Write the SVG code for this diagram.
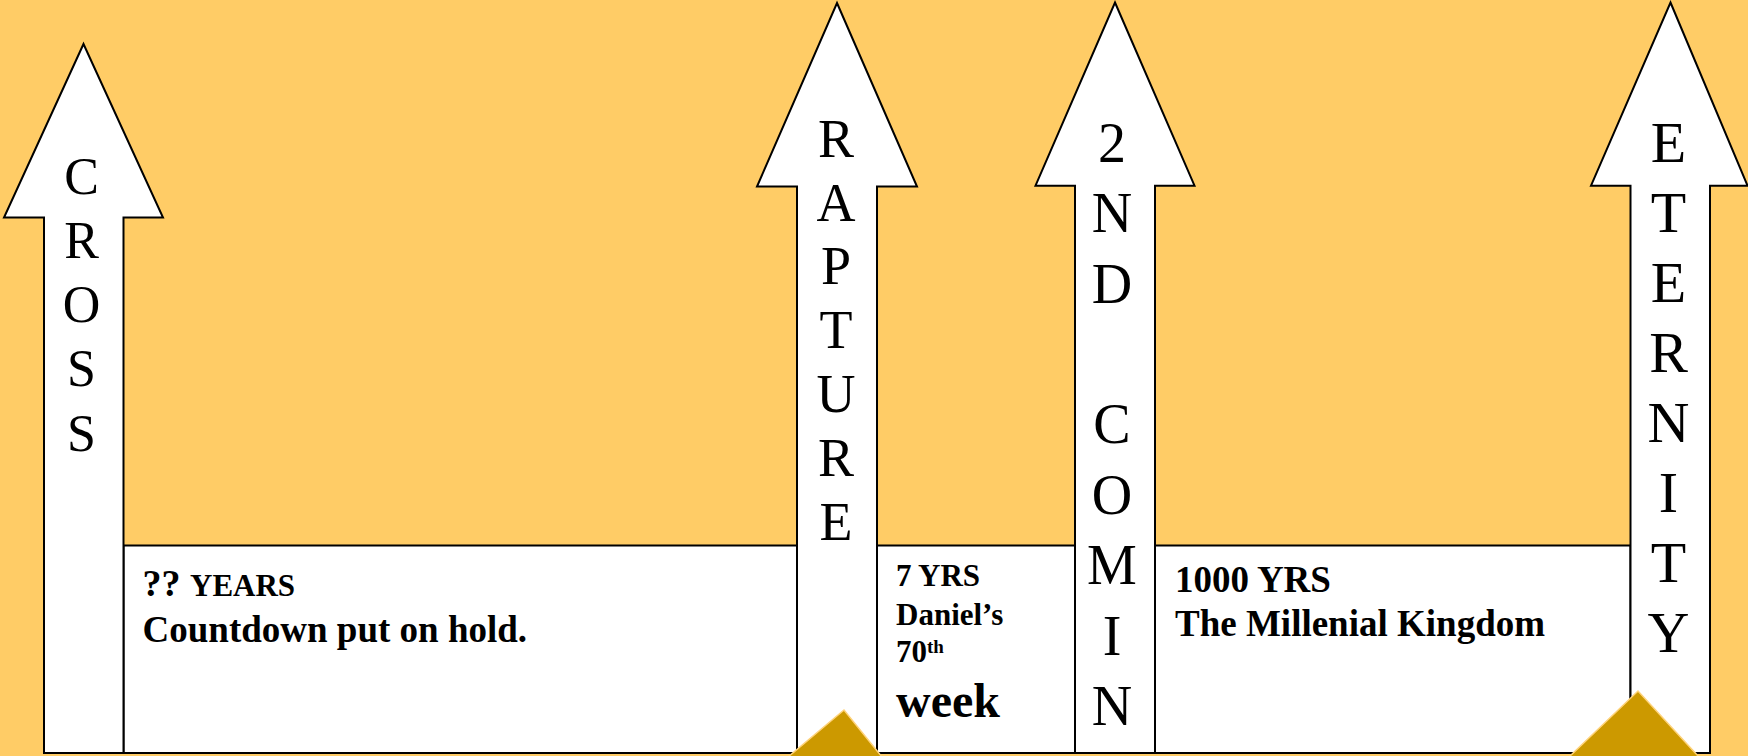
<svg xmlns="http://www.w3.org/2000/svg" width="1748" height="756" viewBox="0 0 1748 756">
<style>
.bg{fill:#FFCC66}
.box{fill:#FFFFFF;stroke:#000;stroke-width:2}
.arrow{fill:#FFFFFF;stroke:#000;stroke-width:2;stroke-linejoin:miter}
.col{font-family:"Liberation Serif","Times New Roman",serif;text-anchor:middle;fill:#000}
.lbl{font-family:"Liberation Serif","Times New Roman",serif;font-weight:bold;fill:#000}
.gold{fill:#CC9900;stroke:#FFD37A;stroke-width:1.5}
</style>
<rect class="bg" x="0" y="0" width="1748" height="756"/>
<g id="timeline-box">
<rect class="box" x="123.5" y="545.5" width="1507" height="207.5"/>
</g>
<g id="connectors"></g>
<g id="cross">
<polygon class="arrow" points="83.5,44 163,217.5 123.5,217.5 123.5,753 44,753 44,217.5 4,217.5"/>
<text class="col" font-size="52"><tspan x="81.5" y="193.5">C</tspan><tspan x="81.5" y="257.8">R</tspan><tspan x="81.5" y="322.1">O</tspan><tspan x="81.5" y="386.4">S</tspan><tspan x="81.5" y="450.7">S</tspan></text>
</g>
<g id="rapture">
<polygon class="arrow" points="837,3 917,186.5 877,186.5 877,753 797,753 797,186.5 757,186.5"/>
<text class="col" font-size="54"><tspan x="836" y="156.7">R</tspan><tspan x="836" y="220.5">A</tspan><tspan x="836" y="284.3">P</tspan><tspan x="836" y="348.1">T</tspan><tspan x="836" y="411.9">U</tspan><tspan x="836" y="475.7">R</tspan><tspan x="836" y="539.5">E</tspan></text>
</g>
<g id="second-coming">
<polygon class="arrow" points="1115,2.5 1194.5,185.7 1155,185.7 1155,753 1075,753 1075,185.7 1035.5,185.7"/>
<text class="col" font-size="56"><tspan x="1112" y="161.7">2</tspan><tspan x="1112" y="232.1">N</tspan><tspan x="1112" y="302.5">D</tspan><tspan x="1112" y="443.3">C</tspan><tspan x="1112" y="513.7">O</tspan><tspan x="1112" y="584.1">M</tspan><tspan x="1112" y="654.5">I</tspan><tspan x="1112" y="724.9">N</tspan><tspan x="1112" y="795.3">G</tspan></text>
</g>
<g id="eternity">
<polygon class="arrow" points="1670.5,2.5 1747.5,185.7 1710,185.7 1710,753 1630.5,753 1630.5,185.7 1591,185.7"/>
<text class="col" font-size="58"><tspan x="1668.5" y="161.7">E</tspan><tspan x="1668.5" y="231.7">T</tspan><tspan x="1668.5" y="301.7">E</tspan><tspan x="1668.5" y="371.7">R</tspan><tspan x="1668.5" y="441.7">N</tspan><tspan x="1668.5" y="511.7">I</tspan><tspan x="1668.5" y="581.7">T</tspan><tspan x="1668.5" y="651.7">Y</tspan></text>
</g>
<g id="period-unknown">
<text class="lbl" x="142.5" y="596" font-size="38">?? <tspan font-size="31">YEARS</tspan></text>
<text class="lbl" x="142.5" y="642" font-size="37">Countdown put on hold.</text>
</g>
<g id="period-seven">
<text class="lbl" x="896" y="586" font-size="31">7 YRS</text>
<text class="lbl" x="896" y="625" font-size="31">Daniel’s</text>
<text class="lbl" x="896" y="662" font-size="31">70<tspan font-size="19" dy="-9">th</tspan></text>
<text class="lbl" x="896" y="717" font-size="48">week</text>
</g>
<g id="period-thousand">
<text class="lbl" x="1175" y="592" font-size="37">1000 YRS</text>
<text class="lbl" x="1175" y="636" font-size="37">The Millenial Kingdom</text>
</g>
<g id="decor">
<polygon class="gold" points="788,757 844,710 882,757"/>
<polygon class="gold" points="1569,757 1638,691 1699,757"/>
</g>
</svg>
